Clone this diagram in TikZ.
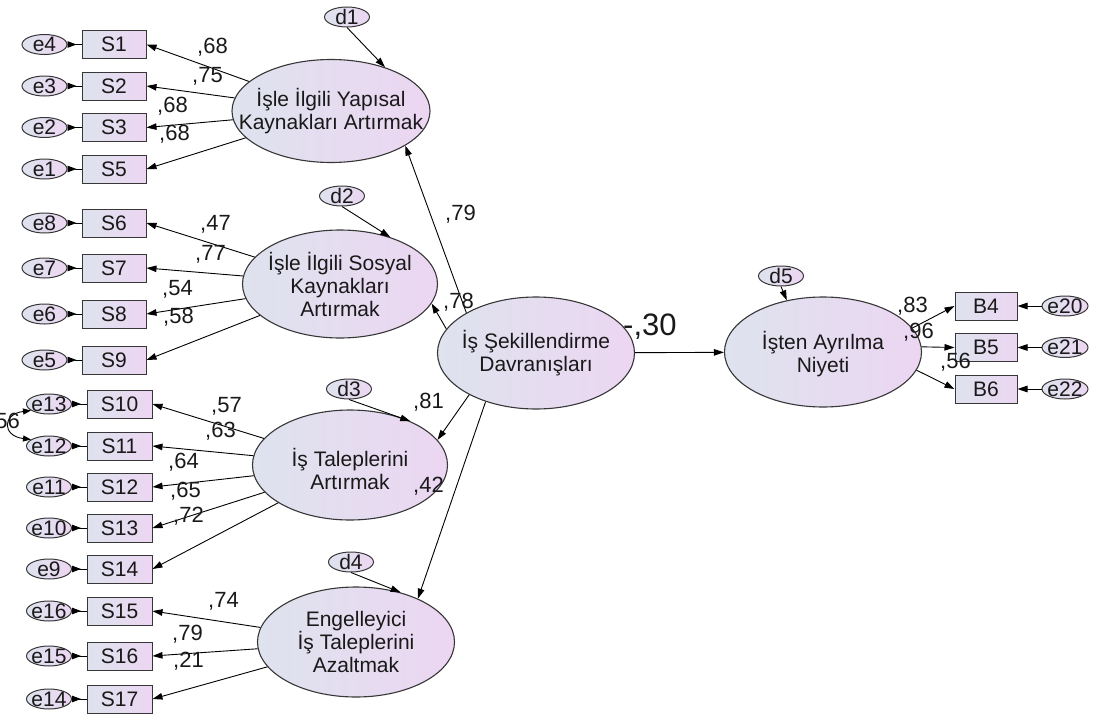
\documentclass[tikz,border=0pt]{standalone}
\usepackage{fontspec}
\setmainfont{Liberation Sans}
\usetikzlibrary{shapes.geometric,arrows.meta}
\definecolor{fillA}{RGB}{222,227,238}
\definecolor{fillB}{RGB}{236,214,242}
\definecolor{edgeC}{RGB}{55,55,55}
\definecolor{txt}{RGB}{25,25,25}
\tikzset{
  arr/.style={draw=black, line width=0.9pt, -{Triangle[length=10pt,width=6.5pt]}},
  errarr/.style={draw=black, line width=0.9pt, {Triangle[reversed,length=9pt,width=6.5pt]}-},
  dbl/.style={draw=black, line width=0.9pt, {Triangle[length=8pt,width=6pt]}-{Triangle[length=8pt,width=6pt]}},
  latent/.style={ellipse, draw=edgeC, line width=1.1pt, left color=fillA, right color=fillB, minimum width=197pt, minimum height=110pt, inner sep=0pt},
  lattext/.style={align=center, font=\fontsize{21}{23}\selectfont, text=txt, inner sep=0pt},
  smalltext/.style={font=\fontsize{21}{21}\selectfont, text=txt, inner sep=0pt},
  errnode/.style={ellipse, draw=edgeC, line width=1pt, left color=fillA, right color=fillB, minimum width=45pt, minimum height=20pt, inner sep=0pt, label={[smalltext]center:#1}},
  obs/.style={rectangle, draw=edgeC, line width=1pt, left color=fillA, right color=fillB, minimum width=64pt, minimum height=28pt, inner sep=0pt, font=\fontsize{21}{21}\selectfont, text=txt},
  load/.style={anchor=base west, inner sep=0pt, font=\fontsize{22}{22}\selectfont, text=txt},
}
\begin{document}
\begin{tikzpicture}[x=1pt,y=-1pt]
\useasboundingbox (0,0) rectangle (1101,720);

% ---------- latent variables
\node[latent, minimum width=198pt, minimum height=103pt] (L1) at (331,111) {};
\node[lattext] at (L1) {İşle İlgili Yapısal\\Kaynakları Artırmak};
\node[latent, minimum width=195pt, minimum height=108pt] (L2) at (340,284) {};
\node[lattext] at (L2) {İşle İlgili Sosyal\\Kaynakları\\Artırmak};
\node[latent, minimum width=195pt] (L3) at (350,465) {};
\node[lattext] at ([yshift=-4pt]L3.center) {İş Taleplerini\\Artırmak};
\node[latent] (L4) at (356,642) {};
\node[lattext] at (L4) {Engelleyici\\İş Taleplerini\\Azaltmak};
\node[latent, minimum height=112pt] (C) at (536,353) {};
\node[lattext] at (C) {İş Şekillendirme\\Davranışları};
\node[latent] (R) at (823,352) {};
\node[lattext] at ([yshift=-2pt]R.center) {İşten Ayrılma\\Niyeti};

% ---------- disturbances
\node[errnode=d1] (d1) at (347,17) {};
\node[errnode=d2] (d2) at (342,196) {};
\node[errnode=d3] (d3) at (349,389) {};
\node[errnode=d4] (d4) at (351,562) {};
\node[errnode=d5] (d5) at (781,276) {};

% ---------- observed (left)
\foreach \s/\e/\y in {S1/e4/44.5, S2/e3/86, S3/e2/127.5, S5/e1/169,
                      S6/e8/223, S7/e7/268, S8/e6/314, S9/e5/360}{
  \node[obs] (\s) at (114,\y) {\s};
  \node[errnode=\e] (\e) at (44.5,\y) {};
}
\foreach \s/\e/\y in {S10/e13/404, S11/e12/446, S12/e11/487, S13/e10/528, S14/e9/569,
                      S15/e16/611, S16/e15/656, S17/e14/699}{
  \node[obs, minimum width=65pt] (\s) at (119.5,\y) {\s};
  \node[errnode=\e] (\e) at (49,\y) {};
}

% ---------- observed (right)
\foreach \s/\e/\y in {B4/e20/306, B5/e21/347.5, B6/e22/389}{
  \node[obs, minimum width=62pt] (\s) at (986,\y) {\s};
  \node[errnode=\e, minimum width=46pt] (\e) at (1065,\y) {};
}

% ---------- measurement paths
\foreach \s in {S1,S2,S3,S5} \draw[arr] (L1) -- (\s.east);
\foreach \s in {S6,S7,S8,S9} \draw[arr] (L2) -- (\s.east);
\foreach \s in {S10,S11,S12,S13,S14} \draw[arr] (L3) -- (\s.east);
\foreach \s in {S15,S16,S17} \draw[arr] (L4) -- (\s.east);
\draw[arr] (R.15) -- (B4.west);
\draw[arr] (R.3) -- (B5.west);
\draw[arr] (R.-11) -- (B6.west);

% ---------- error paths
\foreach \s/\e in {S1/e4, S2/e3, S3/e2, S5/e1, S6/e8, S7/e7, S8/e6, S9/e5,
                   S10/e13, S11/e12, S12/e11, S13/e10, S14/e9, S15/e16, S16/e15, S17/e14}
  \draw[errarr] (\e) -- (\s);
\foreach \s/\e in {B4/e20, B5/e21, B6/e22} \draw[arr] (\e) -- (\s);
\draw[dbl] (e13.200) .. controls (2,414) and (2,436) .. (e12.160);

% ---------- structural paths
\draw[arr] (C.150) -- (L1.-25);
\draw[arr] (C.165) -- (L2.-12);
\draw[arr] (C.212) -- (L3.16);
\draw[arr] (C.224) -- (L4.35);
\draw[arr] (C) -- (R);
\draw[arr] (d1.south) -- (L1.39);
\draw[arr] (d2.south) -- (L2.43);
\draw[arr] (d3.south) -- (L3.36);
\draw[arr] (d4.south) -- (L4.48);
\draw[arr] (d5.south) -- (R.125);

% ---------- estimates
\node[load] (l1) at (197,53) {,68};
\node[load] (l2) at (192,82) {,75};
\node[load] (l3) at (157,112) {,68};
\node[load] (l4) at (159,140) {,68};
\node[load] (l5) at (200,230) {,47};
\node[load] (l6) at (195,260) {,77};
\node[load] (l7) at (162,295) {,54};
\node[load] (l8) at (163,323) {,58};
\node[load] (l9) at (211,412) {,57};
\node[load] (l10) at (205,437) {,63};
\node[load] (l11) at (168,468) {,64};
\node[load] (l12) at (170,497) {,65};
\node[load] (l13) at (173,522) {,72};
\node[load] (l14) at (208,607) {,74};
\node[load] (l15) at (172,640) {,79};
\node[load] (l16) at (173,667) {,21};
\node[load] (g1) at (445,220) {,79};
\node[load] (g2) at (443,308) {,78};
\node[load] (g3) at (413,408) {,81};
\node[load] (g4) at (413,492) {,42};
\node[load, font=\fontsize{31}{31}\selectfont] (g5) at (623,335) {-,30};
\node[load] (r1) at (897,312) {,83};
\node[load] (r2) at (903,338) {,96};
\node[load] (r3) at (940,368) {,56};
\node[load, anchor=base east] (cv) at (20,428) {,56};
\end{tikzpicture}
\end{document}
